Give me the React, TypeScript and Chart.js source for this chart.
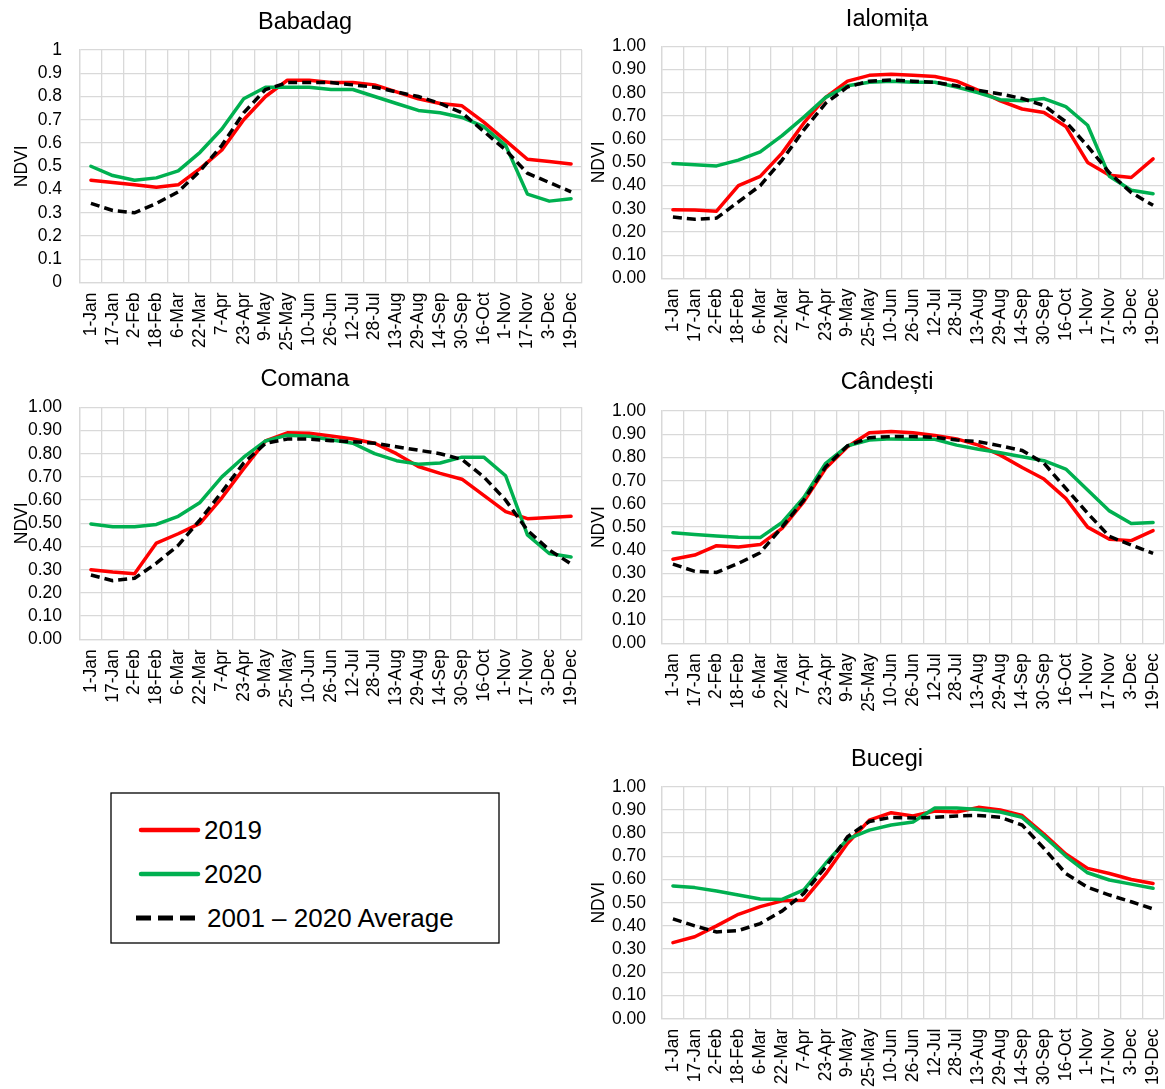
import React, { useEffect, useRef } from "react";
import { Chart, registerables } from "chart.js";

Chart.register(...registerables);

// ---------------- DATA ----------------
const categories = [
  "1-Jan", "17-Jan", "2-Feb", "18-Feb", "6-Mar", "22-Mar", "7-Apr", "23-Apr",
  "9-May", "25-May", "10-Jun", "26-Jun", "12-Jul", "28-Jul", "13-Aug", "29-Aug",
  "14-Sep", "30-Sep", "16-Oct", "1-Nov", "17-Nov", "3-Dec", "19-Dec",
];

const seriesLabels = ["2019", "2020", "2001 – 2020 Average"];
const yTicksPlain = ["0", "0.1", "0.2", "0.3", "0.4", "0.5", "0.6", "0.7", "0.8", "0.9", "1"];

const babadag2019 = [0.44, 0.43, 0.42, 0.41, 0.42, 0.49, 0.57, 0.70, 0.80, 0.87, 0.87, 0.86, 0.86, 0.85, 0.82, 0.79, 0.77, 0.76, 0.69, 0.61, 0.53, 0.52, 0.51];
const babadag2020 = [0.50, 0.46, 0.44, 0.45, 0.48, 0.56, 0.66, 0.79, 0.84, 0.84, 0.84, 0.83, 0.83, 0.80, 0.77, 0.74, 0.73, 0.71, 0.67, 0.59, 0.38, 0.35, 0.36];
const babadagAvg = [0.34, 0.31, 0.30, 0.34, 0.39, 0.48, 0.59, 0.73, 0.83, 0.86, 0.86, 0.86, 0.85, 0.84, 0.82, 0.80, 0.77, 0.73, 0.65, 0.57, 0.47, 0.43, 0.39];

const ialomita2019 = [0.296, 0.295, 0.29, 0.40, 0.44, 0.54, 0.67, 0.78, 0.85, 0.875, 0.88, 0.875, 0.87, 0.85, 0.81, 0.765, 0.73, 0.715, 0.655, 0.50, 0.445, 0.435, 0.515];
const ialomita2020 = [0.495, 0.49, 0.485, 0.51, 0.545, 0.615, 0.695, 0.78, 0.83, 0.845, 0.85, 0.845, 0.845, 0.825, 0.80, 0.77, 0.765, 0.775, 0.74, 0.66, 0.44, 0.38, 0.365];
const ialomitaAvg = [0.265, 0.255, 0.26, 0.33, 0.40, 0.51, 0.64, 0.755, 0.825, 0.85, 0.855, 0.85, 0.845, 0.83, 0.81, 0.795, 0.775, 0.745, 0.675, 0.57, 0.455, 0.37, 0.315];

const comana2019 = [0.30, 0.29, 0.283, 0.415, 0.455, 0.50, 0.61, 0.735, 0.855, 0.89, 0.888, 0.876, 0.863, 0.845, 0.80, 0.745, 0.715, 0.69, 0.62, 0.55, 0.52, 0.525, 0.53];
const comana2020 = [0.497, 0.485, 0.485, 0.495, 0.53, 0.59, 0.70, 0.785, 0.855, 0.88, 0.875, 0.86, 0.845, 0.80, 0.77, 0.755, 0.76, 0.785, 0.785, 0.705, 0.45, 0.37, 0.355];
const comanaAvg = [0.277, 0.253, 0.263, 0.328, 0.405, 0.515, 0.635, 0.76, 0.845, 0.863, 0.863, 0.856, 0.852, 0.845, 0.83, 0.815, 0.80, 0.775, 0.70, 0.60, 0.47, 0.385, 0.325];

const candesti2019 = [0.362, 0.38, 0.42, 0.415, 0.425, 0.495, 0.61, 0.753, 0.846, 0.906, 0.912, 0.906, 0.895, 0.88, 0.853, 0.81, 0.757, 0.707, 0.624, 0.50, 0.448, 0.442, 0.485];
const candesti2020 = [0.476, 0.468, 0.462, 0.456, 0.455, 0.52, 0.628, 0.775, 0.85, 0.875, 0.88, 0.878, 0.878, 0.853, 0.835, 0.82, 0.803, 0.786, 0.75, 0.66, 0.57, 0.516, 0.52];
const candestiAvg = [0.341, 0.31, 0.305, 0.344, 0.39, 0.50, 0.617, 0.76, 0.85, 0.885, 0.89, 0.89, 0.887, 0.875, 0.868, 0.85, 0.83, 0.775, 0.667, 0.56, 0.46, 0.423, 0.387];

const bucegi2019 = [0.328, 0.353, 0.40, 0.45, 0.483, 0.508, 0.511, 0.624, 0.756, 0.856, 0.888, 0.874, 0.895, 0.891, 0.911, 0.90, 0.876, 0.796, 0.71, 0.648, 0.626, 0.60, 0.583];
const bucegi2020 = [0.572, 0.565, 0.55, 0.533, 0.516, 0.514, 0.555, 0.67, 0.774, 0.813, 0.835, 0.848, 0.908, 0.908, 0.902, 0.891, 0.868, 0.787, 0.701, 0.629, 0.598, 0.58, 0.562];
const bucegiAvg = [0.43, 0.40, 0.374, 0.38, 0.41, 0.464, 0.54, 0.655, 0.784, 0.85, 0.868, 0.865, 0.868, 0.874, 0.876, 0.868, 0.835, 0.734, 0.626, 0.566, 0.533, 0.504, 0.473];

// ---------------- STYLE ----------------
const FONT = "'Liberation Sans', Arial, Helvetica, sans-serif";
const RED = "#FF0000";
const GREEN = "#00B050";
const BLACK = "#000000";
const GRID = "#D9D9D9";
const TITLE_SIZE = 23.5;
const TICK_SIZE = 17.5;

type Box = { left: number; top: number; width: number; height: number };
type Plot = { left: number; top: number; right: number; bottom: number };

interface PanelProps {
  title: string;
  r: number[];
  g: number[];
  a: number[];
  box: Box;
  plot: Plot;
  titleX: number;
  titleY: number;
  ndviX: number;
  plainTicks?: boolean;
  tickPad: number;
}

function Panel(props: PanelProps) {
  const ref = useRef<HTMLCanvasElement | null>(null);
  const { box, plot } = props;

  useEffect(() => {
    if (!ref.current) return;
    const tLH = TITLE_SIZE * 1.2;
    const aLH = TICK_SIZE * 1.2;
    const R = box.left + box.width - plot.right;
    const L = 2 * (props.titleX - box.left) - box.width + R;
    const yW = plot.left - box.left - L;
    const yTitlePad = props.ndviX - (box.left + L) - aLH / 2;
    const xH = box.top + box.height - plot.bottom;
    const tTop = props.titleY - box.top - tLH / 2;
    const tBottom = plot.top - box.top - tTop - tLH;

    const tickFont = { family: FONT, size: TICK_SIZE, weight: "normal" as const, lineHeight: 1.2 };

    const chart = new Chart(ref.current, {
      type: "line",
      data: {
        labels: categories,
        datasets: [
          {
            label: seriesLabels[0],
            data: props.r,
            borderColor: RED,
            backgroundColor: RED,
            borderWidth: 3.5,
            pointRadius: 0,
            tension: 0,
            fill: false,
            borderJoinStyle: "round",
            borderCapStyle: "round",
            order: 2,
          },
          {
            label: seriesLabels[1],
            data: props.g,
            borderColor: GREEN,
            backgroundColor: GREEN,
            borderWidth: 3.5,
            pointRadius: 0,
            tension: 0,
            fill: false,
            borderJoinStyle: "round",
            borderCapStyle: "round",
            order: 1,
          },
          {
            label: seriesLabels[2],
            data: props.a,
            borderColor: BLACK,
            backgroundColor: BLACK,
            borderWidth: 3.5,
            borderDash: [9, 5],
            pointRadius: 0,
            tension: 0,
            fill: false,
            order: 0,
          },
        ],
      },
      options: {
        responsive: false,
        maintainAspectRatio: false,
        animation: false,
        events: [],
        layout: { padding: { left: L, right: R, top: 0, bottom: 0 } },
        plugins: {
          legend: { display: false },
          tooltip: { enabled: false },
          title: {
            display: true,
            text: props.title,
            color: BLACK,
            font: { family: FONT, size: TITLE_SIZE, weight: "normal", lineHeight: 1.2 },
            padding: { top: tTop, bottom: tBottom },
          },
        },
        scales: {
          x: {
            type: "category",
            offset: true,
            grid: { offset: true, color: GRID, lineWidth: 1.3, drawTicks: false },
            border: { color: GRID, width: 1.3 },
            ticks: {
              autoSkip: false,
              minRotation: 90,
              maxRotation: 90,
              padding: 10,
              color: BLACK,
              font: tickFont,
            },
            afterFit: (s: any) => {
              s.height = xH;
              s.paddingLeft = 0;
              s.paddingRight = 0;
            },
          },
          y: {
            min: 0,
            max: 1,
            grid: { color: GRID, lineWidth: 1.3, drawTicks: false },
            border: { color: GRID, width: 1.3 },
            ticks: {
              stepSize: 0.1,
              autoSkip: false,
              padding: props.tickPad,
              color: BLACK,
              font: tickFont,
              callback: (v: any) => {
                const n = Math.round(Number(v) * 10);
                return props.plainTicks ? yTicksPlain[n] : (n / 10).toFixed(2);
              },
            },
            title: {
              display: true,
              text: "NDVI",
              color: BLACK,
              font: tickFont,
              padding: { top: yTitlePad, bottom: 0 },
            },
            afterFit: (s: any) => {
              s.width = yW;
            },
          },
        },
      } as any,
    });
    return () => chart.destroy();
  }, []);

  return (
    <canvas
      ref={ref}
      width={box.width}
      height={box.height}
      style={{
        position: "absolute",
        left: box.left,
        top: box.top,
        width: box.width,
        height: box.height,
        display: "block",
      }}
    />
  );
}

function Legend() {
  return (
    <svg
      width={400}
      height={162}
      style={{ position: "absolute", left: 105, top: 787, display: "block" }}
    >
      <rect x={6} y={6} width={388} height={150} fill="#fff" stroke="#000" strokeWidth={1.3} />
      <line x1={36} y1={43} x2={93} y2={43} stroke={RED} strokeWidth={4.5} strokeLinecap="round" />
      <text x={99} y={52} fontFamily={FONT} fontSize={26} fill="#000">{seriesLabels[0]}</text>
      <line x1={36} y1={87} x2={93} y2={87} stroke={GREEN} strokeWidth={4.5} strokeLinecap="round" />
      <text x={99} y={96} fontFamily={FONT} fontSize={26} fill="#000">{seriesLabels[1]}</text>
      <line x1={31} y1={131} x2={94} y2={131} stroke={BLACK} strokeWidth={5} strokeDasharray="15 7" />
      <text x={102} y={140} fontFamily={FONT} fontSize={26} fill="#000">{seriesLabels[2]}</text>
    </svg>
  );
}

export default function App() {
  const leftBox = (top: number, h: number): Box => ({ left: 0, top, width: 600, height: h });
  const rightBox = (top: number, h: number): Box => ({ left: 585, top, width: 580, height: h });
  return (
    <div
      style={{
        position: "absolute",
        left: 0,
        top: 0,
        width: 1165,
        height: 1089,
        background: "#fff",
        overflow: "hidden",
      }}
    >
      <Panel
        title="Babadag"
        r={babadag2019}
        g={babadag2020}
        a={babadagAvg}
        box={leftBox(0, 360)}
        plot={{ left: 80, top: 50, right: 582, bottom: 282.5 }}
        titleX={305}
        titleY={23}
        ndviX={22}
        plainTicks
        tickPad={18}
      />
      <Panel
        title="Ialomița"
        r={ialomita2019}
        g={ialomita2020}
        a={ialomitaAvg}
        box={rightBox(0, 360)}
        plot={{ left: 662, top: 46.3, right: 1164, bottom: 278.5 }}
        titleX={887}
        titleY={20}
        ndviX={599}
        tickPad={16}
      />
      <Panel
        title="Comana"
        r={comana2019}
        g={comana2020}
        a={comanaAvg}
        box={leftBox(360, 370)}
        plot={{ left: 80, top: 407.3, right: 582, bottom: 639.3 }}
        titleX={305}
        titleY={380}
        ndviX={22}
        tickPad={18}
      />
      <Panel
        title="Cândești"
        r={candesti2019}
        g={candesti2020}
        a={candestiAvg}
        box={rightBox(360, 370)}
        plot={{ left: 662, top: 411, right: 1164, bottom: 643.3 }}
        titleX={887}
        titleY={383}
        ndviX={599}
        tickPad={16}
      />
      <Panel
        title="Bucegi"
        r={bucegi2019}
        g={bucegi2020}
        a={bucegiAvg}
        box={rightBox(730, 359)}
        plot={{ left: 662, top: 786.7, right: 1164, bottom: 1018.7 }}
        titleX={887}
        titleY={760}
        ndviX={599}
        tickPad={16}
      />
      <Legend />
    </div>
  );
}
